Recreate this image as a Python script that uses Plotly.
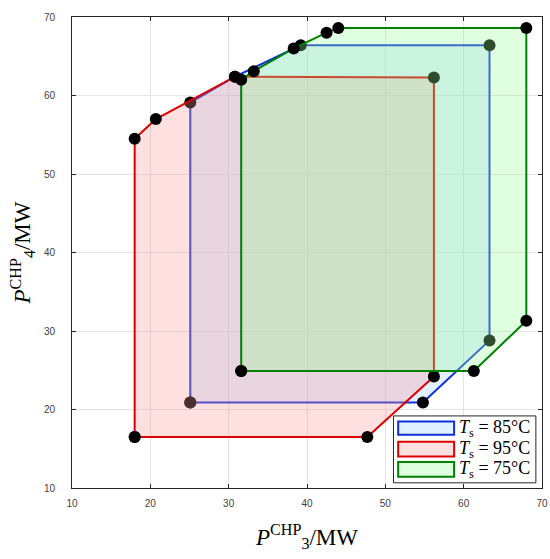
import plotly.graph_objects as go

# Operating regions (P3, P4 in MW) for three supply temperatures
blue_x = [25.1, 54.8, 63.3, 63.3, 39.2, 30.8, 25.1]
blue_y = [20.9, 20.9, 28.8, 66.4, 66.4, 62.4, 59.1]

red_x = [18.0, 47.7, 56.2, 56.2, 30.8, 20.7, 18.0]
red_y = [16.5, 16.5, 24.2, 62.3, 62.4, 57.0, 54.5]

green_x = [31.6, 61.3, 68.0, 68.0, 44.0, 42.5, 38.3, 33.2, 31.6]
green_y = [24.9, 24.9, 31.3, 68.6, 68.6, 68.0, 66.0, 63.1, 62.0]

etiquetas = ["<i>T</i><sub>s</sub> = 85°C", "<i>T</i><sub>s</sub> = 95°C", "<i>T</i><sub>s</sub> = 75°C"]
lineas = ["#1030d8", "#dc0000", "#008000"]
rellenos = ["rgba(153,204,255,0.3)", "rgba(255,153,153,0.3)", "rgba(153,255,153,0.3)"]

serif = "Liberation Serif"
fig = go.Figure()

for xs, ys, nombre, lc, fc in zip([blue_x, red_x, green_x], [blue_y, red_y, green_y],
                                  etiquetas, lineas, rellenos):
    fig.add_trace(go.Scatter(
        x=xs + xs[:1], y=ys + ys[:1], mode="lines+markers", fill="toself",
        fillcolor=fc, line=dict(color=lc, width=2),
        marker=dict(color="black", size=12), name=nombre, showlegend=False
    ))

# leyenda dibujada a mano (cajas anchas como en el original)
caja = dict(x0=0.684, x1=0.987, y0=0.011, y1=0.153)
fig.add_shape(type="rect", xref="paper", yref="paper", **caja,
              fillcolor="white", line=dict(color="#262626", width=1), layer="above")
filas_y = [(0.113, 0.141), (0.067, 0.098), (0.024, 0.055)]
for (y0, y1), nombre, lc, fc in zip(filas_y, etiquetas, lineas, rellenos):
    fig.add_shape(type="rect", xref="paper", yref="paper", x0=0.694, x1=0.813, y0=y0, y1=y1,
                  fillcolor=fc, line=dict(color=lc, width=2), layer="above")
    fig.add_annotation(xref="paper", yref="paper", x=0.819, y=(y0 + y1) / 2,
                       xanchor="left", yanchor="middle", text=nombre, showarrow=False,
                       font=dict(family=serif, size=18, color="black"))

eje = dict(range=[10, 70], dtick=10, showgrid=True, gridcolor="#e3e3e3", zeroline=False,
           showline=True, linecolor="#262626", linewidth=1, mirror="ticks",
           ticks="inside", ticklen=4, tickcolor="#262626", automargin=False,
           tickfont=dict(family="Liberation Sans", size=10, color="#404040"))

fig.update_layout(
    width=550, height=559,
    margin=dict(l=72, r=8, t=17, b=71),
    plot_bgcolor="white", paper_bgcolor="white",
    showlegend=False,
    xaxis=dict(eje, ticklabelstandoff=6,
               title=dict(text="<i>P</i><sup>CHP</sup><sub>3</sub>/MW",
                          font=dict(family=serif, size=23, color="black"), standoff=20)),
    yaxis=dict(eje, ticklabelstandoff=14,
               title=dict(text="<i>P</i><sup>CHP</sup><sub>4</sub>/MW",
                          font=dict(family=serif, size=23, color="black"), standoff=6)),
)

# sin margen en el body para que la figura ocupe la ventana exacta
fig.write_html("out.html", config={"displayModeBar": False},
               post_script="document.body.style.margin='0';")
